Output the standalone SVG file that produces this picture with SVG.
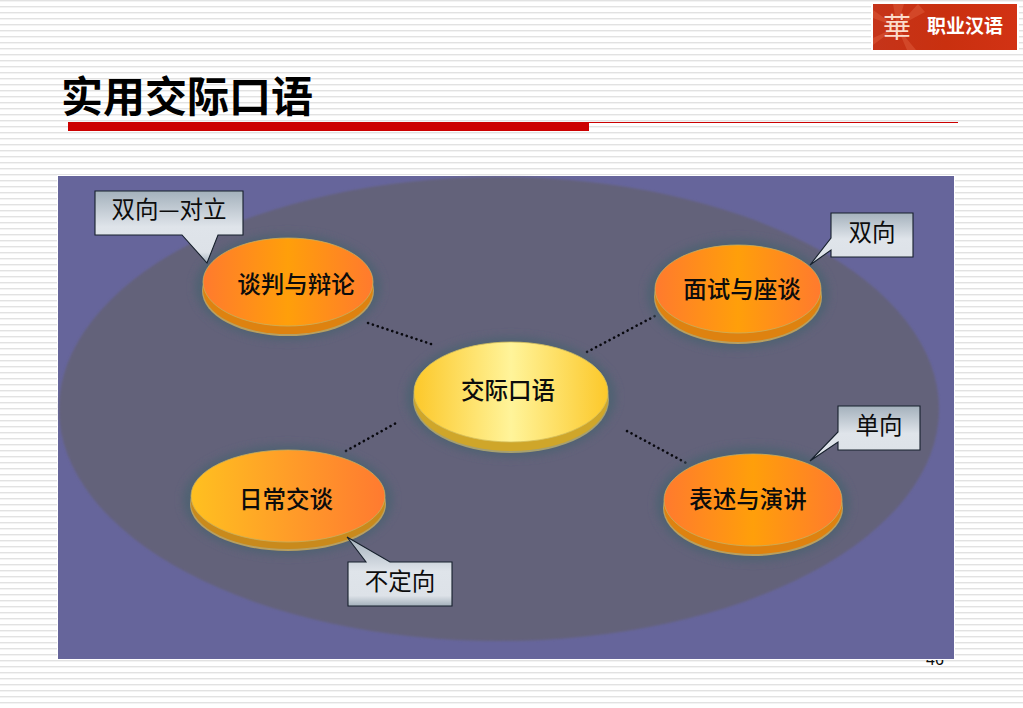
<svg xmlns="http://www.w3.org/2000/svg" width="1023" height="708" viewBox="0 0 1023 708">
<style>
text{font-family:"Noto Sans CJK SC","Liberation Sans",sans-serif;fill:#0c0c0c;text-anchor:middle}
.l{font-size:23.5px;font-weight:500}
.c{font-size:23.5px}
.box{stroke:#16202c;stroke-width:1.1;fill:url(#cg)}
.dot{fill:none;stroke:#08080e;stroke-width:2.6;stroke-linecap:round;stroke-dasharray:.1 5}
.halo{fill:#4f6272;filter:url(#glow)}
</style>
<defs>
<pattern id="bg" width="6" height="6" patternUnits="userSpaceOnUse"><rect width="6" height="6" fill="#fff"/><rect y="0" width="6" height="1.4" fill="#e2e2e2"/></pattern>
<linearGradient id="cg" x1="0" y1="0" x2="0" y2="1"><stop offset="0" stop-color="#a4b1bc"/><stop offset=".5" stop-color="#dfe4ea"/><stop offset=".85" stop-color="#dde2e8"/><stop offset="1" stop-color="#a4b1bc"/></linearGradient>
<linearGradient id="org" x1="0" x2="1" y1="0" y2="0"><stop offset="0" stop-color="#ff7a2e"/><stop offset=".5" stop-color="#ff9f0a"/><stop offset="1" stop-color="#ff7a2e"/></linearGradient>
<linearGradient id="yo" x1="0" x2="1" y1="0" y2="0"><stop offset="0" stop-color="#ffc020"/><stop offset="1" stop-color="#ff7a30"/></linearGradient>
<linearGradient id="yel" x1="0" x2="1" y1="0" y2="0"><stop offset="0" stop-color="#fcc82a"/><stop offset=".5" stop-color="#fff49a"/><stop offset="1" stop-color="#fcc82a"/></linearGradient>
<linearGradient id="logo" x1="0" x2="1" y1="0" y2="0"><stop offset="0" stop-color="#c5341a"/><stop offset=".5" stop-color="#c9300f"/><stop offset="1" stop-color="#d23214"/></linearGradient>
<filter id="glow" x="-20%" y="-30%" width="140%" height="160%"><feGaussianBlur stdDeviation="4"/></filter>
<filter id="soft" x="-5%" y="-5%" width="110%" height="110%"><feGaussianBlur stdDeviation="1.2"/></filter>
</defs>
<rect width="1023" height="708" fill="url(#bg)"/>
<text x="935" y="665" style="font-size:16px;font-family:'Liberation Sans',sans-serif">46</text>
<g id="logo-badge"><rect x="871" y="2" width="148" height="50" fill="#fff"/><rect x="873" y="4" width="144" height="46" fill="url(#logo)"/>
<path d="M897 27L873 10V18ZM897 27L904 4H893ZM897 27L873 38V45ZM897 27L925 12L918 4ZM897 27L916 50H907Z" fill="#dc5a38" opacity=".55"/>
<text x="897" y="38" style="font-size:28px;fill:#fbdccb;font-weight:400">華</text>
<text x="965" y="33" style="font-size:19px;fill:#fff;font-weight:700">职业汉语</text></g>
<text x="187" y="112" style="font-size:42px;font-weight:700;fill:#000">实用交际口语</text>
<rect x="68" y="122" width="521" height="9" fill="#cc0000"/>
<rect x="589" y="122" width="369" height="1" fill="#cc0000"/>
<rect x="57" y="175" width="898" height="485" fill="#fff"/>
<rect x="58" y="176" width="896" height="483" fill="#66659b"/>
<ellipse cx="499" cy="409" rx="440" ry="232" fill="#64627a" filter="url(#soft)"/>
<g id="connectors">
<line class="dot" x1="368" y1="323" x2="434" y2="345"/>
<line class="dot" x1="587" y1="352" x2="655" y2="316"/>
<line class="dot" x1="346" y1="451" x2="396" y2="423"/>
<line class="dot" x1="627" y1="431" x2="688" y2="464"/>
</g>
<g id="n1"><ellipse class="halo" cx="288" cy="287" rx="93" ry="53"/>
<ellipse cx="288" cy="291" rx="86" ry="45" fill="#b9a060"/><ellipse cx="288" cy="290" rx="85" ry="44" fill="#de8210"/><ellipse cx="288" cy="282" rx="85" ry="44" fill="url(#org)" stroke="#c6b060" stroke-width=".8"/>
<text class="l" x="296" y="293">谈判与辩论</text></g>
<g id="n2"><ellipse class="halo" cx="738" cy="294" rx="91" ry="55"/>
<ellipse cx="738" cy="297" rx="84" ry="47" fill="#b9a060"/><ellipse cx="738" cy="296" rx="83" ry="46" fill="#de8210"/><ellipse cx="738" cy="289" rx="83" ry="44" fill="url(#org)" stroke="#c6b060" stroke-width=".8"/>
<text class="l" x="742" y="298">面试与座谈</text></g>
<g id="n3"><ellipse class="halo" cx="511" cy="397" rx="105" ry="60"/>
<ellipse cx="511" cy="400" rx="98" ry="53" fill="#a7a070"/><ellipse cx="511" cy="399" rx="97" ry="52" fill="#cfa62a"/><ellipse cx="511" cy="392" rx="97" ry="50" fill="url(#yel)" stroke="#d4c060" stroke-width=".8"/>
<text class="l" x="508" y="399">交际口语</text></g>
<g id="n4"><ellipse class="halo" cx="288" cy="500" rx="105" ry="55"/>
<ellipse cx="288" cy="504" rx="98" ry="47" fill="#b9a060"/><ellipse cx="288" cy="503" rx="97" ry="46" fill="#c98a1c"/><ellipse cx="288" cy="496" rx="97" ry="46" fill="url(#yo)" stroke="#c6b060" stroke-width=".8"/>
<text class="l" x="286" y="508">日常交谈</text></g>
<g id="n5"><ellipse class="halo" cx="753" cy="504" rx="97" ry="57"/>
<ellipse cx="753" cy="508" rx="90" ry="48" fill="#b9a060"/><ellipse cx="753" cy="507" rx="89" ry="47" fill="#de8210"/><ellipse cx="753" cy="500" rx="89" ry="46" fill="url(#org)" stroke="#c6b060" stroke-width=".8"/>
<text class="l" x="748" y="508">表述与演讲</text></g>
<g id="c1"><path class="box" d="M95 191H243V235H218L207 263L182 235H95Z"/><text class="c" x="169" y="218">双向—对立</text></g>
<g id="c2"><path class="box" d="M831 213H913V257H831V250L810 265L831 238Z"/><text class="c" x="872" y="241">双向</text></g>
<g id="c3"><path class="box" d="M838 406H920V450H838V442L810 461L838 432Z"/><text class="c" x="879" y="434">单向</text></g>
<g id="c4"><path class="box" d="M348 562H366L347 537L390 562H452V606H348Z"/><text class="c" x="400" y="590">不定向</text></g>
</svg>
